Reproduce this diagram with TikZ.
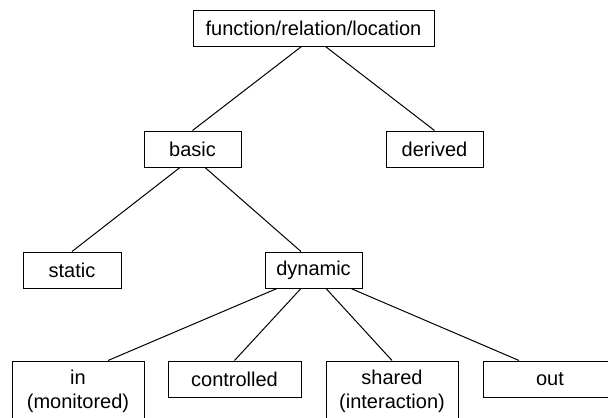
\documentclass[tikz,border=0pt]{standalone}
\usepackage{fontspec}
\setmainfont{Liberation Sans}
\begin{document}
\begin{tikzpicture}[x=0.75pt,y=-0.75pt,
  box/.style={draw, line width=0.75pt, inner sep=0pt, align=center,
    font=\fontsize{15}{18}\selectfont, minimum height=27pt},
  conn/.style={line width=0.75pt}]
\useasboundingbox (0,0) rectangle (608,418);
\clip (0,0) rectangle (608,418);
\node[box, minimum width=180.75pt] (top) at (313.5,28) {function/relation/location};
\node[box, minimum width=72.75pt] (basic) at (192.5,149) {basic};
\node[box, minimum width=72.75pt] (derived) at (434.5,149) {derived};
\node[box, minimum width=73.5pt] (static) at (72,270) {static};
\node[box, minimum width=72.75pt] (dynamic) at (313.5,270) {dynamic};
\node[box, minimum width=99pt, minimum height=45pt] (in) at (78,391) {in\\(monitored)};
\node[box, minimum width=99.75pt] (controlled) at (234.5,379) {controlled};
\node[box, minimum width=99pt, minimum height=45pt] (shared) at (392,391) {shared\\(interaction)};
\node[box, minimum width=100.5pt] (out) at (550,379) {out};
\draw[conn] ([xshift=-9pt]top.south) -- (basic.north);
\draw[conn] ([xshift=9pt]top.south) -- (derived.north);
\draw[conn] ([xshift=-9.4pt]basic.south) -- (static.north);
\draw[conn] ([xshift=9.4pt]basic.south) -- ([xshift=-9.4pt]dynamic.north);
\draw[conn] ([xshift=-27.4pt]dynamic.south) -- ([xshift=22.5pt]in.north);
\draw[conn] ([xshift=-9.4pt]dynamic.south) -- (controlled.north);
\draw[conn] ([xshift=9.4pt]dynamic.south) -- (shared.north);
\draw[conn] ([xshift=28.1pt]dynamic.south) -- ([xshift=-23.25pt]out.north);
\end{tikzpicture}
\end{document}
